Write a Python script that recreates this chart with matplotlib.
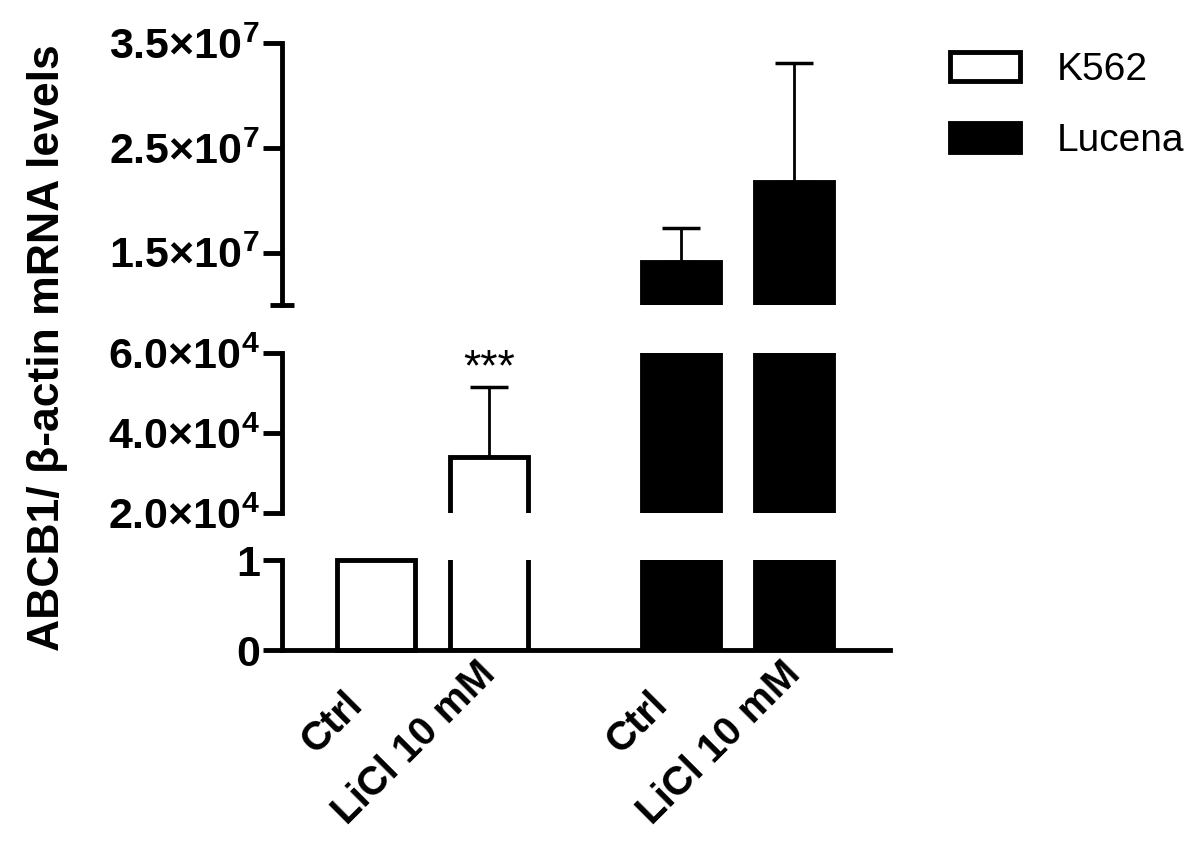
import matplotlib
matplotlib.use("Agg")
import matplotlib.pyplot as plt
from matplotlib.patches import Patch
from matplotlib.transforms import ScaledTranslation

plt.rcParams['font.family'] = ['Liberation Sans', 'DejaVu Sans']
plt.rcParams['mathtext.fontset'] = 'custom'
plt.rcParams['mathtext.rm'] = 'Liberation Sans'
plt.rcParams['mathtext.bf'] = 'Liberation Sans:bold'

# data
conditions = ['Ctrl', 'LiCl 10 mM']
cell_lines = ['K562', 'Lucena']
k562_mean = [1, 3.4e4]
k562_err = [0, 1.75e4]
lucena_mean = [1.41e7, 2.17e7]
lucena_err = [3.2e6, 1.14e7]

# broken y axis: (low, high) for each segment, top to bottom
seg_lims = [(1e7, 3.5e7), (2e4, 6e4), (0, 1)]
seg_ticks = [[1.5e7, 2.5e7, 3.5e7], [2e4, 4e4, 6e4], [0, 1]]
seg_labels = [['1.5×10$^{\\mathbf{7}}$', '2.5×10$^{\\mathbf{7}}$', '3.5×10$^{\\mathbf{7}}$'],
              ['2.0×10$^{\\mathbf{4}}$', '4.0×10$^{\\mathbf{4}}$', '6.0×10$^{\\mathbf{4}}$'],
              ['0', '1']]
# pixel rows of each segment (top, bottom)
seg_px = [(43, 305), (353, 513), (560, 650)]

W, H = 1200, 846
fig = plt.figure(figsize=(12, 8.46), dpi=100)

x = [0, 1, 2.7, 3.7]
means = k562_mean + lucena_mean
errs = k562_err + lucena_err
faces = ['white', 'white', 'black', 'black']
bw = 0.69
LW = 3.5

axes = []
for (lo, hi), ticks, labels, (pt, pb) in zip(seg_lims, seg_ticks, seg_labels, seg_px):
    ax = fig.add_axes([282 / W, 1 - pb / H, (890 - 282) / W, (pb - pt) / H])
    ax.set_ylim(lo, hi)
    ax.set_xlim(-0.83, 4.55)
    for xi, m, e, fc in zip(x, means, errs, faces):
        if m <= lo:
            continue
        clip = m > hi or lo > 0
        ax.bar(xi, m, width=bw, color=fc, edgecolor='black', linewidth=LW,
               clip_on=clip, zorder=2)
        if e > 0 and lo < m <= hi:
            ax.errorbar(xi, m, yerr=[[0], [e]], fmt='none', ecolor='black',
                        elinewidth=2, capsize=14, capthick=2.5, clip_on=False, zorder=1)
    for s in ['top', 'right']:
        ax.spines[s].set_visible(False)
    ax.spines['left'].set_linewidth(LW)
    ax.spines['bottom'].set_linewidth(LW)
    ax.set_yticks(ticks)
    ax.set_yticklabels(labels, fontweight='bold')
    ax.tick_params(axis='y', direction='out', length=14, width=LW, labelsize=31, pad=2)
    ax.patch.set_visible(False)
    axes.append(ax)

ax_top, ax_mid, ax_bot = axes

# break mark at the bottom of the top segment
ax_top.plot([-0.02, 0.02], [1e7, 1e7], transform=ax_top.get_yaxis_transform(),
            color='black', lw=LW, clip_on=False, solid_capstyle='butt')

for ax in (ax_top, ax_mid):
    ax.spines['bottom'].set_visible(False)
    ax.set_xticks([])

ax_bot.set_xticks(x)
ax_bot.set_xticklabels(conditions * 2, rotation=45, ha='right', va='top',
                       rotation_mode='anchor', fontweight='bold', fontsize=29)
ax_bot.tick_params(axis='x', length=0, pad=8)
# nudge labels to where they sit in the reference
shifts = {'Ctrl': (-0.33, -0.24), 'LiCl 10 mM': (-0.13, 0.06)}
for lab in ax_bot.get_xticklabels():
    dx, dy = shifts[lab.get_text()]
    lab.set_transform(lab.get_transform() + ScaledTranslation(dx, dy, fig.dpi_scale_trans))

# significance
ax_mid.annotate('***', (x[1], k562_mean[1] + k562_err[1]), xytext=(0, 5),
                textcoords='offset points', ha='center', va='baseline', fontsize=32)

fig.text(48 / W, 1 - 348 / H, 'ABCB1/ β-actin mRNA levels', rotation=90,
         ha='center', va='center', fontsize=32, fontweight='bold')

handles = [Patch(facecolor='white', edgecolor='black', linewidth=LW),
           Patch(facecolor='black', edgecolor='black', linewidth=LW)]
fig.legend(handles, cell_lines, loc='upper left', bbox_to_anchor=(950 / W, 1 - 52 / H),
           frameon=False, fontsize=28, handlelength=1.8, handleheight=0.75,
           handletextpad=0.95, labelspacing=0.9, borderaxespad=0, borderpad=0)

fig.savefig('out.png', dpi=100)
